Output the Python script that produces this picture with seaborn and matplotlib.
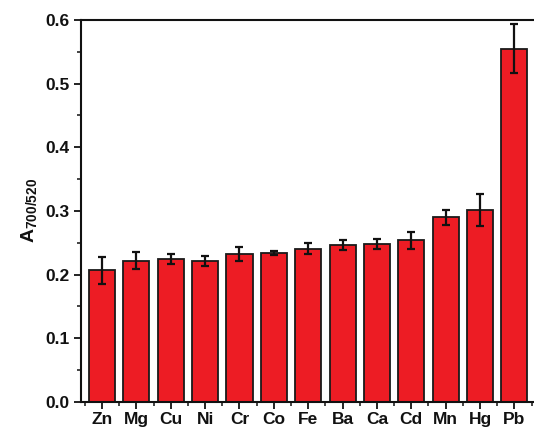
import matplotlib
matplotlib.use("Agg")
import matplotlib.pyplot as plt
from matplotlib.ticker import MultipleLocator, FixedLocator, FormatStrFormatter
import numpy as np
import pandas as pd
import seaborn as sns

# Metal ions and their absorbance ratio (mean, standard deviation)
ions = ["Zn", "Mg", "Cu", "Ni", "Cr", "Co", "Fe", "Ba", "Ca", "Cd", "Mn", "Hg", "Pb"]
ratio = [0.207, 0.222, 0.224, 0.222, 0.232, 0.234, 0.241, 0.247, 0.248, 0.254, 0.290, 0.302, 0.555]
ratio_sd = [0.021, 0.013, 0.008, 0.008, 0.011, 0.003, 0.009, 0.008, 0.008, 0.013, 0.012, 0.025, 0.039]

sns.set_theme(style="ticks")
plt.rcParams["font.family"] = ["Liberation Sans", "DejaVu Sans"]
plt.rcParams["font.weight"] = "bold"
plt.rcParams["mathtext.fontset"] = "custom"
plt.rcParams["mathtext.rm"] = "Liberation Sans:bold"
plt.rcParams["mathtext.bf"] = "Liberation Sans:bold"
plt.rcParams["mathtext.it"] = "Liberation Sans:bold"

df = pd.DataFrame({"ion": ions, "ratio": ratio, "sd": ratio_sd})

fig = plt.figure(figsize=(5.34, 4.29), dpi=100)
ax = fig.add_axes([0.1517, 0.063, 0.8483, 0.8904])

sns.barplot(data=df, x="ion", y="ratio", order=ions, color="#ED1C24",
            saturation=1, width=0.76, edgecolor="#1a1a1a", linewidth=1.3,
            errorbar=None, ax=ax)
ax.errorbar(np.arange(len(ions)), df["ratio"], yerr=df["sd"], fmt="none",
            ecolor="#111111", elinewidth=1.6, capsize=3.2, capthick=1.6)

ax.set_ylim(0, 0.6)
ax.set_xlim(-0.61, len(ions) - 1 + 0.57)
ax.yaxis.set_major_locator(MultipleLocator(0.1))
ax.yaxis.set_minor_locator(MultipleLocator(0.05))
ax.xaxis.set_minor_locator(FixedLocator(np.arange(-0.5, len(ions), 1.0)))
ax.yaxis.set_major_formatter(FormatStrFormatter("%.1f"))

for side in ["left", "bottom", "top"]:
    ax.spines[side].set_linewidth(1.5)
    ax.spines[side].set_color("#111111")
ax.spines["right"].set_visible(False)

ax.tick_params(axis="both", which="major", direction="out", length=5, width=1.3,
               color="#111111", labelsize=12.5, labelcolor="#111111")
ax.tick_params(axis="both", which="minor", direction="out", length=3, width=1.1,
               color="#111111")
ax.tick_params(axis="x", which="major", pad=2)
ax.tick_params(axis="y", which="major", pad=3)
for lab in ax.get_xticklabels() + ax.get_yticklabels():
    lab.set_fontweight("bold")

ax.set_xlabel("")
ax.set_ylabel(r"A$_{\mathbf{700/520}}$", fontsize=14, fontweight="bold",
              color="#111111", labelpad=5)

fig.savefig("out.png", dpi=100)
